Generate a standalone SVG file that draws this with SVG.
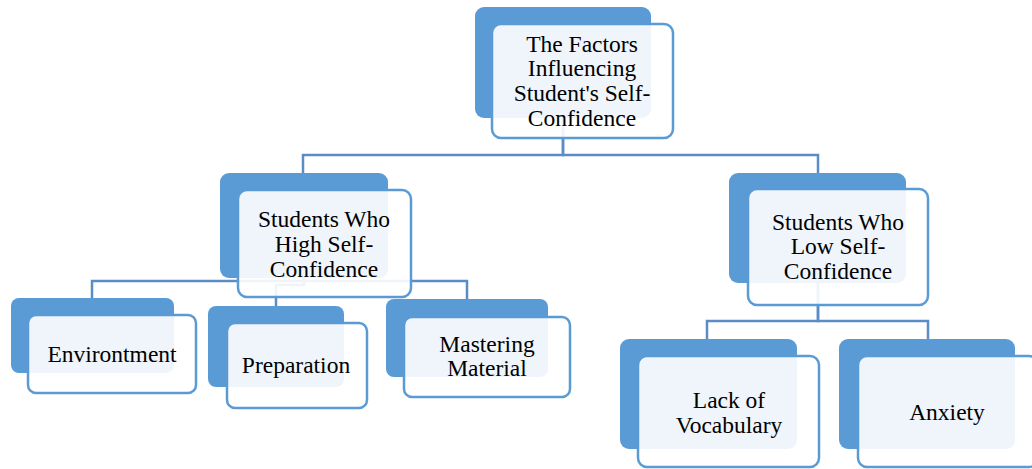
<svg xmlns="http://www.w3.org/2000/svg" width="1032" height="469" viewBox="0 0 1032 469">
<style>
.dk{fill:#5B9BD5;}
.lt{fill:#FFFFFF;fill-opacity:0.9;stroke:#5B9BD5;stroke-width:2.5;}
.cn{fill:none;stroke:#5A8DC6;stroke-width:2.5;}
text{font-family:"Liberation Serif","Times New Roman",serif;font-size:23.5px;fill:#000;text-anchor:middle;}
</style>
<rect width="1032" height="469" fill="#FFFFFF"/>
<g id="connectors">
<path class="cn" d="M563 118 V155 H303 V174"/>
<path class="cn" d="M563 118 V155 H818 V174"/>
<path class="cn" d="M304 278 V281 H92 V299"/>
<path class="cn" d="M304 278 V281 H467 V300"/>
<path class="cn" d="M304 278 V285 H276 V307"/>
<path class="cn" d="M818 283 V321 H707 V340"/>
<path class="cn" d="M818 283 V321 H928 V340"/>
</g>
<g id="root">
<rect class="dk" x="475" y="7" width="176" height="111" rx="9"/>
<rect class="lt" x="492" y="24" width="181" height="114" rx="9"/>
<text x="582" y="52">The Factors</text>
<text x="582" y="76">Influencing</text>
<text x="582" y="101">Student's Self-</text>
<text x="582" y="126">Confidence</text>
</g>
<g id="high">
<rect class="dk" x="220" y="173" width="168" height="105" rx="9"/>
<rect class="lt" x="238" y="190" width="173" height="107" rx="9"/>
<text x="324" y="227">Students Who</text>
<text x="324" y="252">High Self-</text>
<text x="324" y="277">Confidence</text>
</g>
<g id="low">
<rect class="dk" x="729" y="173" width="177" height="110" rx="9"/>
<rect class="lt" x="748" y="189" width="180" height="116" rx="9"/>
<text x="838" y="230">Students Who</text>
<text x="838" y="254">Low Self-</text>
<text x="838" y="279">Confidence</text>
</g>
<g id="environment">
<rect class="dk" x="11" y="298" width="163" height="75" rx="8"/>
<rect class="lt" x="28" y="315" width="168" height="78" rx="8"/>
<text x="112" y="362">Environtment</text>
</g>
<g id="preparation">
<rect class="dk" x="208" y="306" width="136" height="81" rx="8"/>
<rect class="lt" x="227" y="323" width="140" height="85" rx="8"/>
<text x="296" y="373">Preparation</text>
</g>
<g id="mastering">
<rect class="dk" x="386" y="299" width="162" height="78" rx="8"/>
<rect class="lt" x="404" y="317" width="166" height="80" rx="8"/>
<text x="487" y="352">Mastering</text>
<text x="487" y="376">Material</text>
</g>
<g id="vocabulary">
<rect class="dk" x="620" y="339" width="177" height="110" rx="9"/>
<rect class="lt" x="638" y="356" width="181" height="111" rx="9"/>
<text x="729" y="408">Lack of</text>
<text x="729" y="433">Vocabulary</text>
</g>
<g id="anxiety">
<rect class="dk" x="839" y="339" width="176" height="110" rx="9"/>
<rect class="lt" x="858" y="356" width="180" height="111" rx="9"/>
<text x="947" y="420">Anxiety</text>
</g>
</svg>
